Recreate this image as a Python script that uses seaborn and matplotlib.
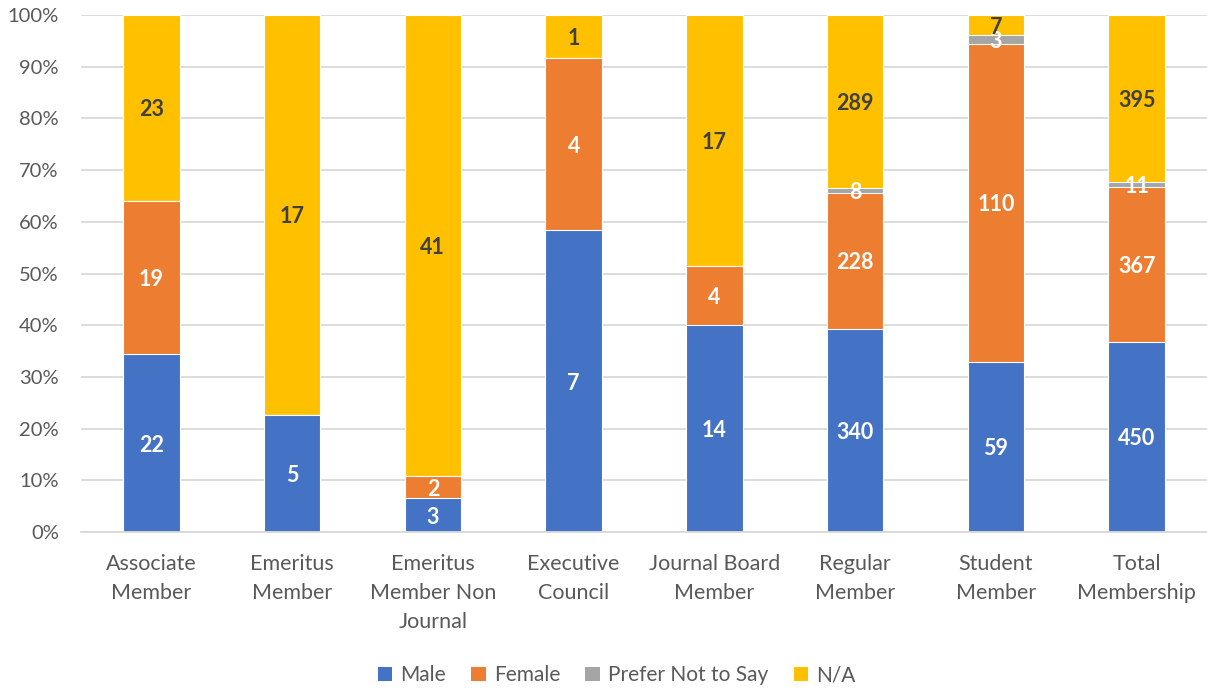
import matplotlib
matplotlib.use("Agg")
import matplotlib.pyplot as plt
import seaborn as sns
import pandas as pd
import numpy as np
from matplotlib.patches import Patch
from matplotlib.ticker import PercentFormatter

categories = ["Associate\nMember", "Emeritus\nMember", "Emeritus\nMember Non\nJournal",
              "Executive\nCouncil", "Journal Board\nMember", "Regular\nMember",
              "Student\nMember", "Total\nMembership"]
male = [22, 5, 3, 7, 14, 340, 59, 450]
female = [19, 0, 2, 4, 4, 228, 110, 367]
prefer = [0, 0, 0, 0, 0, 8, 3, 11]
na = [23, 17, 41, 1, 17, 289, 7, 395]

series_names = ["Male", "Female", "Prefer Not to Say", "N/A"]
series_colors = ["#4472C4", "#ED7D31", "#A5A5A5", "#FFC000"]
label_colors = ["white", "white", "white", "#404040"]

sns.set_theme(style="white")
plt.rcParams["font.family"] = ["Lato", "DejaVu Sans"]

values = np.array([male, female, prefer, na], dtype=float)
totals = values.sum(axis=0)
pct = values / totals * 100
cum = np.cumsum(pct, axis=0)

fig = plt.figure(figsize=(12.07, 6.91), dpi=100)
ax = fig.add_axes([81 / 1207, 1 - 532 / 691, 1 - 81 / 1207, (532 - 15) / 691])

# draw from top-most cumulative to bottom so segments stack
for i in range(3, -1, -1):
    df = pd.DataFrame({"cat": categories, "val": cum[i]})
    sns.barplot(data=df, x="cat", y="val", color=series_colors[i], width=0.4,
                saturation=1, edgecolor="white", linewidth=0.8, ax=ax, zorder=2)

# data labels
for i in range(4):
    for j in range(len(categories)):
        v = values[i, j]
        if v == 0:
            continue
        bottom = cum[i, j] - pct[i, j]
        yc = bottom + pct[i, j] / 2
        ax.text(j, yc, f"{int(v)}", ha="center", va="center_baseline", fontsize=15.5,
                fontweight="bold", color=label_colors[i], zorder=5)

ax.set_ylim(0, 100)
ax.set_xlim(-0.5, len(categories) - 0.5)
ax.yaxis.set_major_locator(plt.MultipleLocator(10))
ax.yaxis.set_major_formatter(PercentFormatter(decimals=0))
ax.grid(axis="y", color="#D9D9D9", linewidth=1.3, zorder=0)
ax.set_axisbelow(True)
for s in ["top", "right", "left"]:
    ax.spines[s].set_visible(False)
ax.spines["bottom"].set_color("#D9D9D9")
ax.spines["bottom"].set_linewidth(1.3)
ax.set_xlabel("")
ax.set_ylabel("")
ax.set_xticks(range(len(categories)))
ax.set_xticklabels(categories, linespacing=1.55)
ax.tick_params(axis="y", length=0, pad=16, labelsize=14.5, labelcolor="#595959")
ax.tick_params(axis="x", length=0, pad=16, labelsize=15.5, labelcolor="#595959")

handles = [Patch(facecolor=c, edgecolor="none") for c in series_colors]
fig.legend(handles, series_names, loc="center", bbox_to_anchor=(0.511, 0.023),
           ncol=4, frameon=False, fontsize=15, handlelength=0.7, handleheight=0.7,
           handletextpad=0.4, columnspacing=1.2, labelcolor="#595959")

fig.savefig("out.png", dpi=100)
